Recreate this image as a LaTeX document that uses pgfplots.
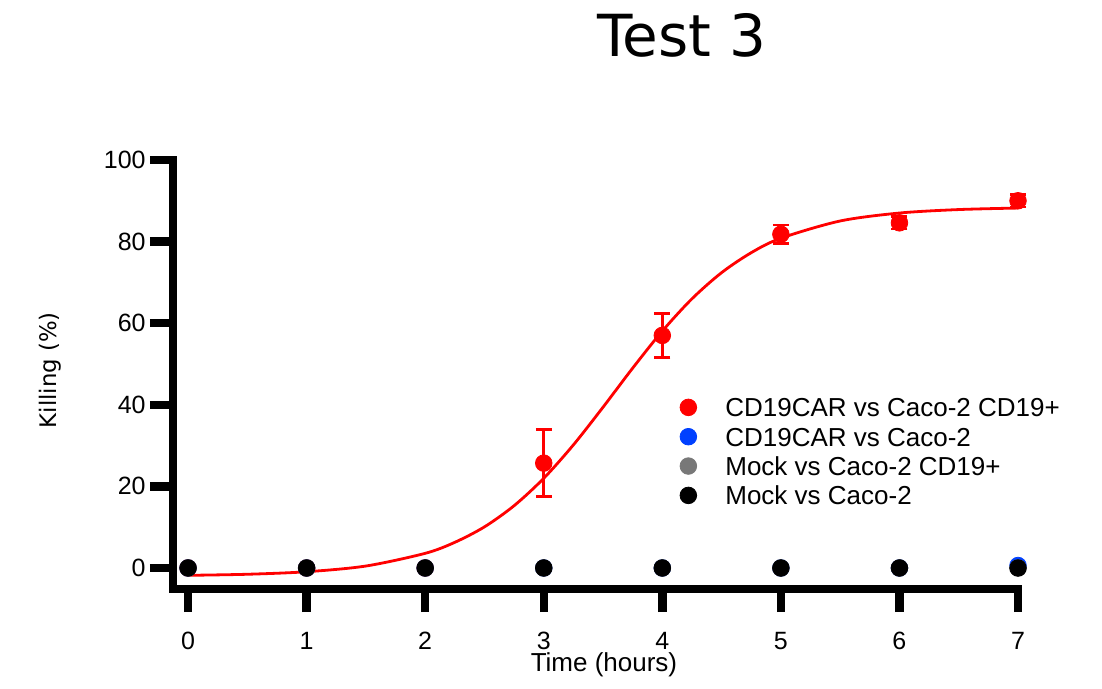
\documentclass[border=0pt]{standalone}
\usepackage{fontspec}
\setmainfont{Liberation Sans}
\newfontfamily\dejavu{DejaVu Sans}
\usepackage{pgfplots}
\pgfplotsset{compat=1.18}
\definecolor{cred}{RGB}{255,0,0}
\definecolor{cblue}{RGB}{0,64,255}
\definecolor{cgrey}{RGB}{120,120,120}

\begin{document}
\begin{tikzpicture}
\useasboundingbox (-86.5pt,-50pt) rectangle (464.5pt,294.5pt);
\begin{axis}[
  at={(0pt,0pt)}, anchor=south west,
  scale only axis, width=422.5pt, height=214.5pt,
  xmin=-0.127, xmax=7, ymin=-5.15, ymax=100,
  axis x line=bottom, axis y line=left,
  axis line style={-, line width=4.2pt, line cap=rect},
  xtick={0,...,7}, ytick={0,20,...,100},
  tick align=outside, major tick length=11.5pt,
  tick style={line width=4.2pt, black},
  /pgf/number format/assume math mode=true,
  ticklabel style={font=\fontsize{12.5}{14}\selectfont},
  xticklabel style={inner sep=0pt, anchor=north, yshift=-10pt},
  yticklabel style={inner sep=0pt, anchor=east, xshift=-2pt},
  xlabel={Time (hours)},
  xlabel style={at={(axis description cs:0.51,0)}, yshift=-38pt, anchor=center,
    font=\fontsize{13}{15}\selectfont},
  ylabel={Killing (\%)},
  ylabel style={at={(axis description cs:0,0.51)}, anchor=center, yshift=61.5pt,
    font=\dejavu\fontsize{11.4}{13}\selectfont},
  clip=false,
  legend cell align=left,
  legend image code/.code={\draw[#1] plot coordinates {(0pt,0pt)};},
  legend style={draw=none, fill=none, inner sep=0pt,
    at={(axis description cs:0.5996,0.4462)}, anchor=north west,
    row sep=5.27pt, column sep=14.35pt,
    font=\fontsize{13}{15}\selectfont,
    nodes={inner sep=0pt, text height=9.4pt, text depth=0pt}},
]
\addplot[only marks, mark=*, mark size=4.15pt, color=cred,
  error bars/.cd, y dir=both, y explicit,
  error bar style={line width=1.3pt, cred},
  error mark options={rotate=90, mark size=4pt, line width=1.3pt, cred}]
  coordinates {
  (0,0) +- (0,0)
  (1,0) +- (0,0)
  (2,0) +- (0,0)
  (3,25.7) +- (0,8.2)
  (4,57.0) +- (0,5.4)
  (5,81.8) +- (0,2.3)
  (6,84.6) +- (0,1.5)
  (7,90.0) +- (0,1.5)
};
\addlegendentry{CD19CAR vs Caco-2 CD19+}
\addplot[only marks, mark=*, mark size=4.15pt, color=cblue] coordinates {
  (0,0) (1,0) (2,0) (3,0) (4,0) (5,0) (6,0) (7,0.6)
};
\addlegendentry{CD19CAR vs Caco-2}
\addplot[only marks, mark=*, mark size=4.15pt, color=cgrey] coordinates {
  (0,0) (1,0) (2,0) (3,0) (4,0) (5,0) (6,0) (7,0)
};
\addlegendentry{Mock vs Caco-2 CD19+}
\addplot[only marks, mark=*, mark size=4.15pt, color=black] coordinates {
  (0,0) (1,0) (2,0) (3,0) (4,0) (5,0) (6,0) (7,0)
};
\addlegendentry{Mock vs Caco-2}
% fitted curve
\addplot[cred, line width=1.4pt, smooth, forget plot] coordinates {
  (0,-1.80) (0.5,-1.54) (1,-0.92) (1.5,0.48) (2,3.59) (2.25,6.29)
  (2.5,10.08) (2.75,15.27) (3,21.98) (3.25,30.17) (3.5,39.41)
  (3.75,48.99) (4,58.07) (4.25,65.98) (4.5,72.39) (4.75,77.28)
  (5,80.83) (5.5,85.05) (6,87.00) (6.5,87.85) (7,88.22)
};
\end{axis}
\node[anchor=base, font=\dejavu\fontsize{29}{32}\selectfont] at (254.5pt,266pt) {Test 3};
\end{tikzpicture}
\end{document}
